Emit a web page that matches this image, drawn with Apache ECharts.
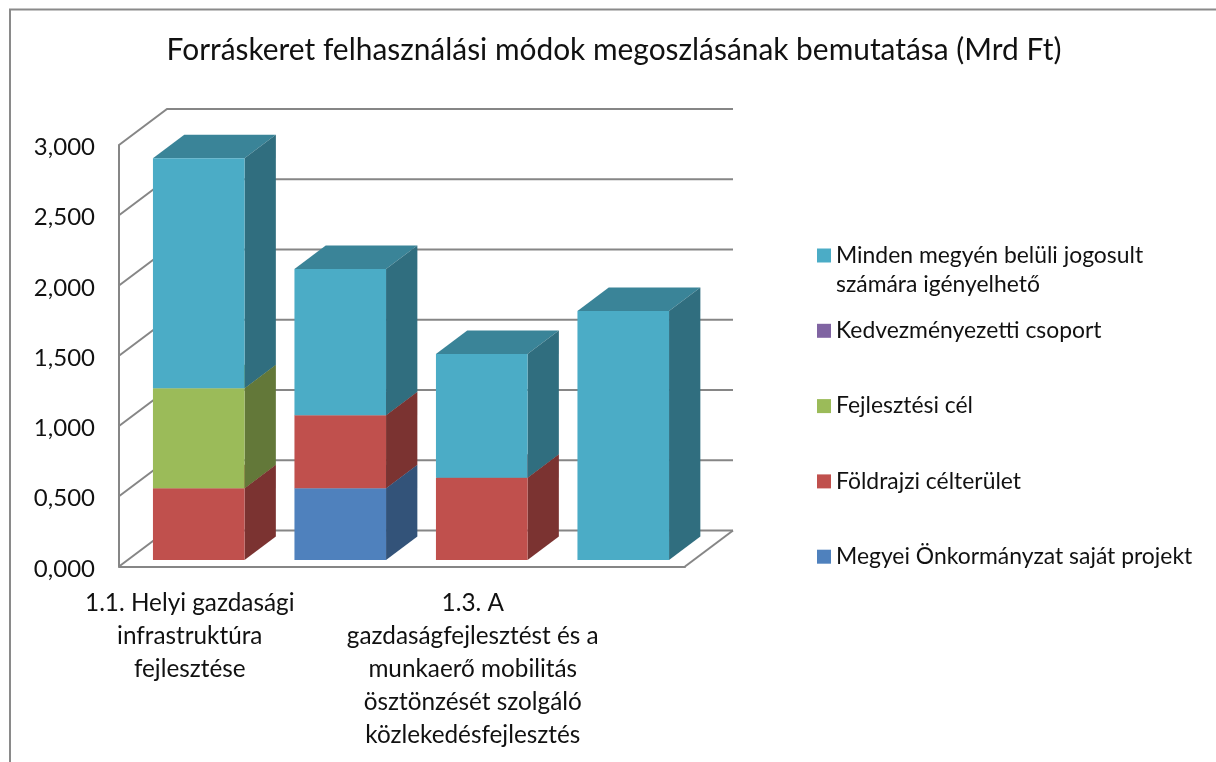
<!DOCTYPE html>
<html><head><meta charset="utf-8">
<style>html,body{margin:0;padding:0;background:#fff}#c{width:1216px;height:762px}</style>
<script src="https://cdn.jsdelivr.net/npm/echarts@6/dist/echarts.min.js"></script>
</head><body><div id="c"></div>
<script>
const categories = ["1.1. Helyi gazdasági\ninfrastruktúra\nfejlesztése", "", "1.3. A\ngazdaságfejlesztést és a\nmunkaerő mobilitás\nösztönzését szolgáló\nközlekedésfejlesztés", ""];
const yTicks = [0, 0.5, 1, 1.5, 2, 2.5, 3];
const sajatProjekt = [0, 0.51, 0, 0];
const foldrajzi = [0.51, 0.52, 0.584, 0];
const fejlesztesiCel = [0.712, 0, 0, 0];
const kedvezmenyezetti = [0, 0, 0, 0];
const mindenJogosult = [1.637, 1.041, 0.882, 1.772];
const seriesNames = ["Megyei Önkormányzat saját projekt", "Földrajzi célterület", "Fejlesztési cél", "Kedvezményezetti csoport", "Minden megyén belüli jogosult\nszámára igényelhető"];
const seriesValues = [sajatProjekt, foldrajzi, fejlesztesiCel, kedvezmenyezetti, mindenJogosult];
const seriesColors = ["#4F81BD", "#C0504D", "#9BBB59", "#8064A2", "#4BACC6"];
const FONT = "Lato";
const TEXT = "#111";
const GRIDC = "#868686";

function shade(hex, f) {
  const n = parseInt(hex.slice(1), 16);
  const c = s => Math.round(((n >> s) & 255) * f);
  return `rgb(${c(16)},${c(8)},${c(0)})`;
}
// 3D projection proportions, as fractions of the category band
const WALL_DX = 48 / 141.5, WALL_DY = 36 / 141.5;
const BAR_W = 91.6 / 141.5, BAR_OFF_X = 9 / 141.5, BAR_OFF_Y = 6.6 / 141.5;
const BAR_DX = 31.3 / 141.5, BAR_DY = 23.5 / 141.5;

function renderWall(params, api) {
  const cs = params.coordSys, band = cs.width / categories.length;
  const v = api.value(0), y = api.coord([0, v])[1];
  const dx = WALL_DX * band, dy = WALL_DY * band;
  const style = { stroke: GRIDC, lineWidth: 2, fill: null };
  const children = [{ type: 'polyline', shape: { points: [[cs.x, y], [cs.x + dx, y - dy], [cs.x + cs.width + dx, y - dy]] }, style }];
  if (v === 0) children.push({ type: 'polyline', shape: { points: [[cs.x + cs.width, y], [cs.x + cs.width + dx, y - dy]] }, style });
  return { type: 'group', children };
}
function renderBar(color) {
  return function (params, api) {
    const base = api.value(1), top = api.value(2);
    if (top - base <= 0) return null;
    const band = api.size([1, 0])[0];
    const cx = api.coord([api.value(0), 0])[0] + BAR_OFF_X * band;
    const off = BAR_OFF_Y * band, w = BAR_W * band, dx = BAR_DX * band, dy = BAR_DY * band;
    const y0 = api.coord([0, base])[1] - off, y1 = api.coord([0, top])[1] - off;
    const l = cx - w / 2, r = cx + w / 2;
    return { type: 'group', children: [
      { type: 'polygon', shape: { points: [[l, y1], [r, y1], [r + dx, y1 - dy], [l + dx, y1 - dy]] }, style: { fill: shade(color, 0.77) } },
      { type: 'polygon', shape: { points: [[r, y0], [r + dx, y0 - dy], [r + dx, y1 - dy], [r, y1]] }, style: { fill: shade(color, 0.64) } },
      { type: 'rect', shape: { x: l, y: y1, width: w, height: y0 - y1 }, style: { fill: color } }
    ] };
  };
}
const running = categories.map(() => 0);
const barSeries = seriesNames.map((name, s) => {
  const data = seriesValues[s].map((v, i) => { const b = running[i]; running[i] = b + v; return [i, b, b + v]; });
  return { type: 'custom', name, data, z: 3, renderItem: renderBar(seriesColors[s]), itemStyle: { color: seriesColors[s] }, encode: { x: 0, y: 2 }, silent: true };
});

const chart = echarts.init(document.getElementById('c'), null, { renderer: 'canvas' });
chart.setOption({
  animation: false,
  backgroundColor: '#fff',
  textStyle: { fontFamily: FONT },
  title: { text: "Forráskeret felhasználási módok megoszlásának bemutatása (Mrd Ft)", left: 609, top: 30, textAlign: 'center',
    textStyle: { fontFamily: FONT, fontSize: 29.9, fontWeight: 'normal', color: TEXT } },
  grid: { left: 119, top: 145, width: 566, height: 421.5, containLabel: false },
  xAxis: { type: 'category', data: categories, axisTick: { show: false },
    axisLine: { lineStyle: { color: GRIDC, width: 2 } },
    axisLabel: { interval: 0, margin: 20, color: TEXT, fontFamily: FONT, fontSize: 24.3, lineHeight: 33, align: 'center', verticalAlign: 'top' } },
  yAxis: { type: 'value', min: 0, max: 3, interval: 0.5, splitLine: { show: false }, axisTick: { show: false },
    axisLine: { show: true, lineStyle: { color: GRIDC, width: 2 } },
    axisLabel: { margin: 24, color: TEXT, fontFamily: FONT, fontSize: 24, lineHeight: 24, verticalAlign: 'top', padding: [-9.5, 0, 0, 0], formatter: v => v.toFixed(3).replace('.', ',') } },
  legend: { orient: 'vertical', left: 812, top: 207, icon: 'rect', itemWidth: 14, itemHeight: 14, itemGap: -11.7, align: 'left', selectedMode: false,
    data: [seriesNames[4], seriesNames[3], seriesNames[2], seriesNames[1], seriesNames[0]],
    formatter: n => n.includes('\n') ? '\n' + n : '\n' + n + '\n ',
    textStyle: { fontFamily: FONT, fontSize: 22.9, lineHeight: 29, color: TEXT } },
  graphic: [{ type: 'polyline', silent: true, shape: { points: [[10, 762], [10, 9.5], [1216, 9.5]] }, style: { stroke: '#8a8a8a', lineWidth: 2, fill: null } }],
  series: [{ type: 'custom', name: 'wall', data: yTicks.map(v => [v]), z: 1, renderItem: renderWall, encode: { y: 0 }, silent: true }].concat(barSeries)
});
</script></body></html>
